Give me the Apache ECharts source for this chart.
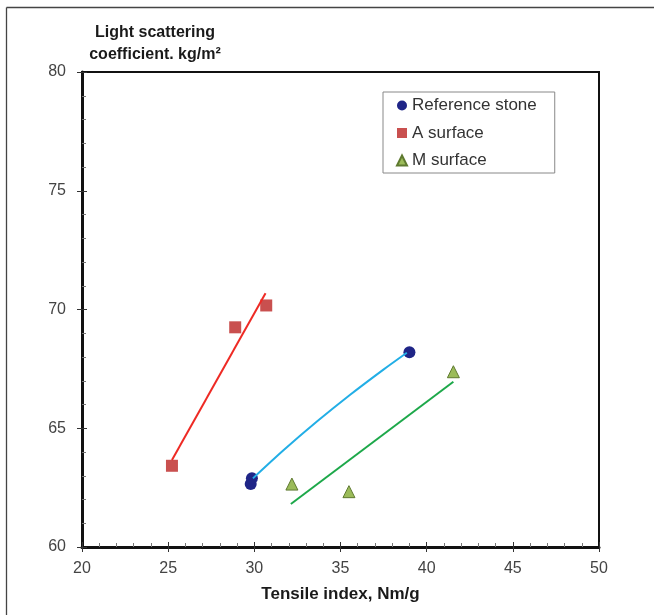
<!DOCTYPE html>
<html>
<head>
<meta charset="utf-8">
<script src="https://cdn.jsdelivr.net/npm/echarts@6/dist/echarts.min.js"></script>
<style>html,body{margin:0;padding:0;background:#fff;}#c{width:654px;height:615px;}</style>
</head>
<body>
<div id="c"></div>
<script>
// Data
const seriesNames = ['Reference stone', 'A surface', 'M surface'];
const refStone = [[29.79, 62.65], [29.86, 62.90], [39.0, 68.2]];
const aSurface = [[25.22, 63.42], [28.89, 69.25], [30.69, 70.17]];
const mSurface = [[32.18, 62.65], [35.49, 62.33], [41.55, 67.38]];
// Trend lines as drawn in the picture
const refTrend = [[29.92, 62.89], [31.69, 64.07], [33.63, 65.28], [35.56, 66.41], [37.49, 67.47], [38.85, 68.18]];
const aTrend = [[25.22, 63.66], [30.65, 70.68]];
const mTrend = [[32.12, 61.81], [41.55, 66.96]];
// Axes
const xMin = 20, xMax = 50, xStep = 5;
const yMin = 60, yMax = 80, yStep = 5;
const xTitle = 'Tensile index, Nm/g';
const yTitle = 'Light scattering\ncoefficient. kg/m²';

const FONT = '"Liberation Sans", Arial, sans-serif';
const chart = echarts.init(document.getElementById('c'), null, {renderer: 'canvas'});

const innerAxis = (min, max, step, pos) => ({
  type: 'value', min, max, interval: step, position: pos,
  axisLine: {show: false}, axisLabel: {show: false}, splitLine: {show: false},
  axisTick: {show: true, inside: true, length: 5, lineStyle: {color: '#333', width: 1}},
  minorTick: {show: true, splitNumber: 5, length: 4, lineStyle: {color: '#777', width: 1}}
});

chart.setOption({
  animation: false,
  backgroundColor: '#fff',
  grid: {left: 82, right: 55, top: 72, bottom: 68, show: true, borderColor: '#111', borderWidth: 2, backgroundColor: 'transparent'},
  graphic: [
    {type: 'line', shape: {x1: 6.5, y1: 7.5, x2: 654, y2: 7.5}, style: {stroke: '#444', lineWidth: 1.3}},
    {type: 'line', shape: {x1: 6.5, y1: 7.5, x2: 6.5, y2: 615}, style: {stroke: '#444', lineWidth: 1.3}},
    {type: 'text', x: 155, y: 22, style: {text: yTitle, textAlign: 'center', textVerticalAlign: 'top', font: 'bold 16px ' + FONT, lineHeight: 22, fill: '#1a1a1a'}}
  ],
  legend: {
    orient: 'vertical', left: 383, top: 92,
    padding: [5, 18, 4, 13],
    borderColor: '#888', borderWidth: 1,
    itemWidth: 10, itemHeight: 10, itemGap: 10.5,
    textStyle: {fontFamily: FONT, fontSize: 17, color: '#333', lineHeight: 16},
    data: [
      {name: seriesNames[0], icon: 'circle'},
      {name: seriesNames[1], icon: 'rect'},
      {name: seriesNames[2], icon: 'triangle'}
    ]
  },
  xAxis: [
    {
      type: 'value', min: xMin, max: xMax, interval: xStep, position: 'bottom',
      name: xTitle, nameLocation: 'middle', nameGap: 39,
      nameTextStyle: {fontFamily: FONT, fontSize: 17, fontWeight: 'bold', color: '#1a1a1a'},
      axisLine: {show: true, lineStyle: {color: '#111', width: 3}},
      axisTick: {show: true, inside: false, length: 5, lineStyle: {color: '#333', width: 1}},
      axisLabel: {fontFamily: FONT, fontSize: 16, color: '#444', margin: 14},
      splitLine: {show: false}
    },
    innerAxis(xMin, xMax, xStep, 'bottom')
  ],
  yAxis: [
    {
      type: 'value', min: yMin, max: yMax, interval: yStep, position: 'left',
      axisLine: {show: true, lineStyle: {color: '#111', width: 3}},
      axisTick: {show: true, inside: false, length: 5, lineStyle: {color: '#333', width: 1}},
      axisLabel: {fontFamily: FONT, fontSize: 16, color: '#444', margin: 16},
      splitLine: {show: false}
    },
    innerAxis(yMin, yMax, yStep, 'left')
  ],
  series: [
    {name: seriesNames[0], type: 'scatter', data: refStone, symbol: 'circle', symbolSize: 12, z: 2,
      itemStyle: {color: '#1f2587', opacity: 1}},
    {name: seriesNames[1], type: 'scatter', data: aSurface, symbol: 'rect', symbolSize: 12, z: 2,
      itemStyle: {color: '#c9504f', opacity: 1}},
    {name: seriesNames[2], type: 'scatter', data: mSurface, symbol: 'triangle', symbolSize: 12, z: 2,
      itemStyle: {color: '#9bbb59', borderColor: '#5f7a30', borderWidth: 1, opacity: 1}},
    {name: 'refTrend', type: 'line', data: refTrend, smooth: 0.3, showSymbol: false, symbol: 'none', z: 3,
      lineStyle: {color: '#22aee6', width: 2}},
    {name: 'aTrend', type: 'line', data: aTrend, showSymbol: false, symbol: 'none', z: 3,
      lineStyle: {color: '#ee2a24', width: 2}},
    {name: 'mTrend', type: 'line', data: mTrend, showSymbol: false, symbol: 'none', z: 3,
      lineStyle: {color: '#1da84a', width: 2}}
  ]
});
</script>
</body>
</html>
